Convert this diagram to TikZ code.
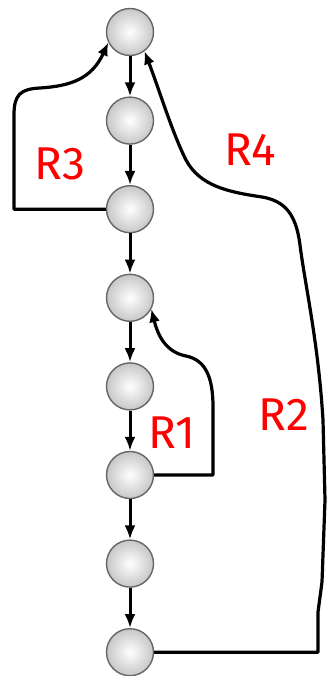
\documentclass[tikz,border=0pt]{standalone}
\usepackage{fontspec}
\setsansfont{Fira Sans}
\usetikzlibrary{arrows.meta}
\begin{document}
\begin{tikzpicture}[x=1pt,y=-1pt,
  state/.style={circle, minimum size=47pt, inner sep=0pt, draw=black!60,
    line width=1.4pt, inner color=white, outer color=black!22},
  flow/.style={line width=3pt, -{Latex[length=14pt,width=11pt]}},
  back/.style={line width=3.2pt, line join=round, -{Latex[length=13pt,width=11pt]}},
  lbl/.style={text=red, inner sep=0pt, font=\sffamily\fontsize{46}{46}\selectfont}]
\useasboundingbox (0,0) rectangle (326,676);

% the chain of states
\foreach \i in {1,...,8}
  \node[state] (n\i) at (130,{32+88.6*(\i-1)}) {};
\foreach \i/\j in {1/2,2/3,3/4,4/5,5/6,6/7,7/8}
  \draw[flow] (n\i) -- (n\j);

% R3: from the third state back to the first, on the left
\draw[back] (n3.west) -| (14,115)
  .. controls (14,95) and (20,89) .. (40,88)
  .. controls (72,86) and (92,78) .. (n1.206);

% R1: from the sixth state back to the fourth
\draw[back] (n6.east) -| (213,407)
  .. controls (213,378) and (206,360) .. (186,356)
  .. controls (166,352) and (158,336) .. (n4.-28);

% R2 / R4: from the last state back to the first, on the right
\draw[back] (n8.east) -- (318,652.2) -- (318,612) -- (322,582) -- (325,500)
  -- (323,420)
  .. controls (318,340) and (305,285) .. (300,245)
  .. controls (296,214) and (285,201) .. (262,197)
  .. controls (228,192) and (200,186) .. (186,160)
  .. controls (172,132) and (160,92) .. (n1.-53);

% loop labels
\node[lbl] (r3) at (60,164) {R3};
\node[lbl] (r4) at (250,150) {R4};
\node[lbl] (r1) at (172,433) {R1};
\node[lbl] (r2) at (284,415) {R2};
\end{tikzpicture}
\end{document}
